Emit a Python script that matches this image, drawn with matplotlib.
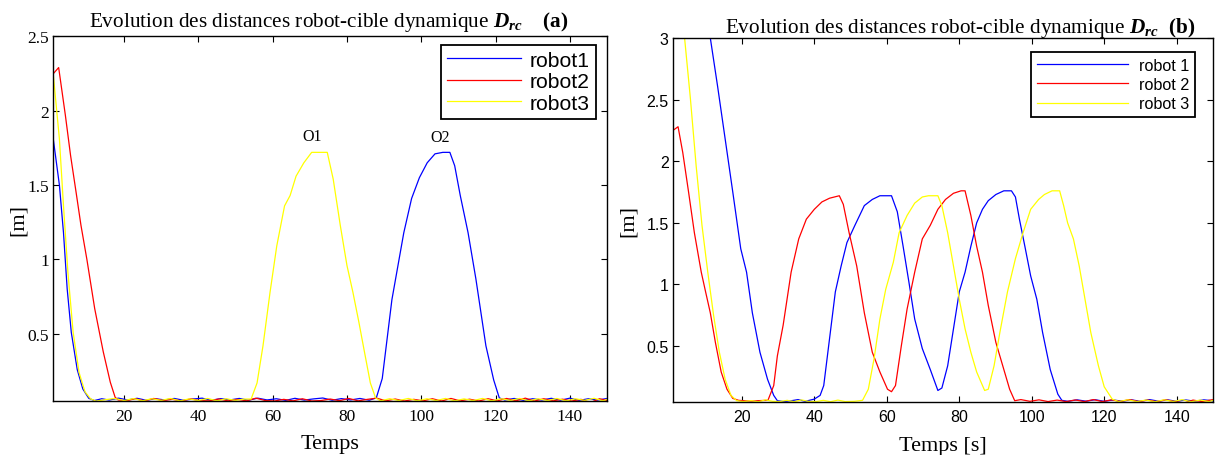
import matplotlib
matplotlib.use("Agg")
import matplotlib.pyplot as plt

# ---------------------------------------------------------------------------
# Distance robot-cible (m) en fonction du temps (s): (temps, distance)
# ---------------------------------------------------------------------------
# (a) cible dynamique, obstacles O1 / O2
robot1_a = [(1, 1.80), (2.6, 1.50), (3.7, 1.18), (4.7, 0.80), (5.8, 0.51), (7.4, 0.26),
            (8.9, 0.13), (10.5, 0.067), (12, 0.052), (14, 0.064), (16, 0.055), (18.5, 0.068),
            (21, 0.056), (23.5, 0.067), (26, 0.054), (28.5, 0.064), (31, 0.056), (33.5, 0.066),
            (36, 0.054), (38.5, 0.062), (41, 0.068), (43.5, 0.054), (46, 0.065), (48.5, 0.056),
            (51, 0.066), (53.5, 0.054), (56, 0.068), (58.5, 0.056), (61, 0.064), (63.5, 0.053),
            (66, 0.067), (68.5, 0.055), (71, 0.063), (73.5, 0.069), (76, 0.054), (78.5, 0.065),
            (81, 0.056), (83.5, 0.066), (86, 0.054), (87.9, 0.07), (89.5, 0.20), (92.1, 0.73),
            (95.3, 1.18), (97.4, 1.41), (99.5, 1.55), (101.6, 1.65), (103.7, 1.71), (105.8, 1.72),
            (107.7, 1.72), (109, 1.63), (110.5, 1.43), (112.6, 1.18), (114.7, 0.87), (117.4, 0.42),
            (119.5, 0.19), (121, 0.07), (122.5, 0.055), (125, 0.066), (127.5, 0.053), (130, 0.064),
            (132.5, 0.055), (135, 0.067), (137.5, 0.054), (140, 0.068), (142.5, 0.053),
            (145, 0.064), (147.5, 0.055), (150, 0.066)]

robot2_a = [(1, 2.25), (2.4, 2.29), (4.2, 1.97), (5.6, 1.70), (7.1, 1.45), (8.4, 1.23),
            (10, 1.00), (12.1, 0.67), (14.4, 0.38), (16.3, 0.175), (17.6, 0.074), (18.4, 0.056),
            (20.5, 0.05), (23, 0.064), (25.5, 0.05), (28, 0.066), (30.5, 0.052), (33, 0.06),
            (35.5, 0.05), (38, 0.063), (40.5, 0.051), (43, 0.05), (45.5, 0.062), (48, 0.05),
            (50.5, 0.06), (53, 0.05), (55.5, 0.068), (58, 0.052), (60.5, 0.049), (63, 0.06),
            (65.5, 0.05), (68, 0.064), (70.5, 0.049), (73, 0.052), (75.5, 0.062), (78, 0.051),
            (80.5, 0.066), (83, 0.05), (85.5, 0.06), (88, 0.068), (90.5, 0.05), (93, 0.062),
            (95.5, 0.049), (98, 0.06), (100.5, 0.05), (103, 0.064), (105.5, 0.049), (108, 0.066),
            (110.5, 0.05), (113, 0.061), (115.5, 0.049), (118, 0.064), (120.5, 0.05),
            (123, 0.066), (125.5, 0.05), (128, 0.068), (130.5, 0.049), (133, 0.064), (135.5, 0.05),
            (138, 0.061), (140.5, 0.049), (143, 0.06), (145.5, 0.038), (148, 0.064), (150, 0.052)]

robot3_a = [(1, 2.23), (2.6, 1.81), (3.7, 1.36), (4.9, 0.91), (6.3, 0.51), (7.9, 0.24),
            (9.5, 0.11), (11, 0.063), (12.5, 0.048), (15, 0.058), (17.5, 0.066), (20, 0.052),
            (22.5, 0.065), (25, 0.051), (27.5, 0.064), (30, 0.053), (32.5, 0.066), (35, 0.05),
            (37.5, 0.063), (40, 0.052), (42.5, 0.066), (45, 0.05), (47.5, 0.064), (50, 0.053),
            (52.5, 0.062), (54.2, 0.062), (55.8, 0.17), (57.4, 0.42), (59.3, 0.78), (61.1, 1.09),
            (63.2, 1.36), (64.7, 1.43), (66.3, 1.56), (68.4, 1.65), (70.5, 1.72), (74.7, 1.72),
            (76.3, 1.54), (78.2, 1.23), (80, 0.96), (81.6, 0.78), (83.2, 0.58), (84.7, 0.38),
            (86.3, 0.17), (87.7, 0.07), (89, 0.05), (91.5, 0.064), (94, 0.052), (96.5, 0.066),
            (99, 0.05), (101.5, 0.064), (104, 0.052), (106.5, 0.066), (109, 0.05), (111.5, 0.063),
            (114, 0.052), (116.5, 0.066), (119, 0.05), (121.5, 0.064), (124, 0.053), (126.5, 0.066),
            (129, 0.05), (131.5, 0.064), (134, 0.052), (136.5, 0.066), (139, 0.05), (141.5, 0.064),
            (144, 0.053), (146.5, 0.067), (149, 0.05), (150, 0.06)]

# (b) trois robots, cible dynamique
robot1_b = [(1, 4.6), (11.3, 3.0), (13.3, 2.61), (15.4, 2.18), (17.5, 1.75), (19.7, 1.29),
            (21.3, 1.10), (22.9, 0.77), (25, 0.45), (27.1, 0.23), (28.8, 0.10), (29.8, 0.057),
            (31.5, 0.05), (33.5, 0.056), (35.5, 0.066), (37.5, 0.052), (40, 0.07), (41.6, 0.10),
            (42.6, 0.18), (44.2, 0.56), (45.8, 0.94), (47.4, 1.15), (49, 1.34), (51.2, 1.48),
            (53.8, 1.64), (56, 1.69), (58.1, 1.72), (61.3, 1.72), (62.9, 1.59), (64.5, 1.31),
            (66.1, 1.02), (67.7, 0.72), (69.8, 0.48), (72, 0.31), (74.1, 0.14), (75.2, 0.16),
            (76.8, 0.34), (78.4, 0.64), (80, 0.94), (81.6, 1.10), (83.2, 1.31), (84.8, 1.50),
            (86.4, 1.61), (88, 1.68), (90.1, 1.73), (92.3, 1.76), (94.4, 1.76), (95.5, 1.71),
            (96.6, 1.53), (98.1, 1.31), (99.7, 1.07), (101.4, 0.88), (103, 0.61), (105.1, 0.31),
            (107.2, 0.11), (108.3, 0.06), (110, 0.052), (112.5, 0.064), (115, 0.053),
            (117.5, 0.065), (120, 0.052), (122.5, 0.063), (125, 0.053), (127.5, 0.064),
            (130, 0.052), (132.5, 0.066), (135, 0.053), (137.5, 0.064), (140, 0.052),
            (142.5, 0.063), (145, 0.053), (147.5, 0.064), (150, 0.056)]

robot2_b = [(1, 2.25), (2.4, 2.28), (3.7, 2.07), (5.3, 1.75), (6.9, 1.42), (8.8, 1.10),
            (10, 0.94), (11.3, 0.77), (12.7, 0.53), (14.3, 0.29), (15.9, 0.15), (17.5, 0.076),
            (19.1, 0.06), (21, 0.056), (23, 0.054), (25, 0.058), (27.2, 0.06), (28.8, 0.18),
            (29.8, 0.42), (31.4, 0.67), (33.6, 1.10), (35.7, 1.37), (37.8, 1.53), (40, 1.61),
            (42.1, 1.67), (44.2, 1.70), (46.9, 1.72), (48, 1.65), (49.6, 1.42), (51.7, 1.15),
            (53.8, 0.77), (56, 0.45), (58.1, 0.29), (60.2, 0.15), (61.3, 0.13), (62.4, 0.18),
            (64, 0.50), (65.6, 0.80), (67.7, 1.10), (69.8, 1.37), (72, 1.48), (74.1, 1.61),
            (76.2, 1.69), (78.4, 1.74), (80.5, 1.76), (81.6, 1.76), (83.2, 1.56), (84.8, 1.31),
            (86.4, 1.10), (88, 0.83), (90.1, 0.53), (92.3, 0.31), (93.9, 0.15), (95.3, 0.057),
            (97, 0.066), (99.5, 0.052), (102, 0.064), (104.5, 0.05), (107, 0.062), (109.5, 0.05),
            (112, 0.063), (114.5, 0.05), (117, 0.066), (119.5, 0.05), (122, 0.064),
            (124.5, 0.051), (127, 0.066), (129.5, 0.05), (132, 0.062), (134.5, 0.05),
            (137, 0.064), (139.5, 0.05), (142, 0.038), (144.5, 0.062), (147, 0.05), (150, 0.066)]

robot3_b = [(1, 3.6), (4.2, 3.0), (5.8, 2.51), (7.4, 1.96), (9, 1.48), (10.6, 1.10),
            (12.2, 0.75), (13.8, 0.45), (15.4, 0.23), (17, 0.10), (18.6, 0.057), (20.5, 0.05),
            (22.5, 0.058), (24.5, 0.048), (26.5, 0.064), (28.5, 0.052), (30.5, 0.05), (32.5, 0.06),
            (34.5, 0.049), (36.5, 0.063), (38.5, 0.051), (40.5, 0.05), (42.5, 0.06), (44.5, 0.049),
            (46.5, 0.062), (48.5, 0.05), (51, 0.052), (53.3, 0.06), (54.9, 0.15), (56.5, 0.40),
            (58.1, 0.72), (59.7, 0.96), (61.8, 1.18), (63.4, 1.42), (65.6, 1.56), (67.7, 1.66),
            (69.8, 1.71), (71.5, 1.72), (74.1, 1.72), (75.2, 1.64), (76.8, 1.42), (78.4, 1.15),
            (80, 0.88), (81.6, 0.64), (83.2, 0.45), (84.8, 0.29), (87, 0.14), (88, 0.15),
            (89.6, 0.34), (91.2, 0.61), (93.3, 0.94), (95.5, 1.21), (97.6, 1.42), (99.7, 1.61),
            (101.9, 1.69), (103.5, 1.73), (105.6, 1.76), (107.7, 1.76), (108.8, 1.64),
            (109.9, 1.50), (111.5, 1.37), (113.1, 1.15), (114.7, 0.88), (116.3, 0.61),
            (118.4, 0.34), (120, 0.17), (122.2, 0.07), (124, 0.05), (126.5, 0.064),
            (129, 0.05), (131.5, 0.062), (134, 0.049), (136.5, 0.064), (139, 0.051),
            (141.5, 0.065), (144, 0.049), (146.5, 0.062), (149, 0.05), (150, 0.06)]

labels_a = ["robot1", "robot2", "robot3"]
labels_b = ["robot 1", "robot 2", "robot 3"]
colors = ["#0000ff", "#ff0000", "#ffff00"]

yticks_a = [0.5, 1, 1.5, 2, 2.5]
ytick_labels_a = ["0.5", "1", "1.5", "2", "2.5"]
yticks_b = [0.5, 1, 1.5, 2, 2.5, 3]
ytick_labels_b = ["0.5", "1", "1.5", "2", "2.5", "3"]
xticks = [20, 40, 60, 80, 100, 120, 140]

# obstacles annotés sur (a): (nom, temps, distance)
obstacles = [("O1", 70.5, 1.83), ("O2", 105.0, 1.82)]

SERIF = "Liberation Serif"
SANS = "Liberation Sans"
plt.rcParams["mathtext.fontset"] = "custom"
plt.rcParams["mathtext.rm"] = SERIF
plt.rcParams["mathtext.it"] = SERIF + ":italic:bold"
plt.rcParams["mathtext.bf"] = SERIF + ":bold"

fig = plt.figure(figsize=(12.15, 4.56), dpi=100)
ax_a = fig.add_axes([0.0440, 0.1178, 0.4556, 0.8004])
ax_b = fig.add_axes([0.5539, 0.1169, 0.4444, 0.7976])


def draw(ax, series, labels):
    for data, lab, c in zip(series, labels, colors):
        t = [p[0] for p in data]
        v = [p[1] for p in data]
        ax.plot(t, v, color=c, lw=0.9, label=lab)


def style(ax, yticks, ylabels, tick_font, tick_size):
    ax.set_xlim(1, 150)
    ax.set_xticks(xticks)
    ax.set_xticklabels([str(x) for x in xticks])
    ax.set_yticks(yticks)
    ax.set_yticklabels(ylabels)
    ax.tick_params(direction="in", top=True, right=True, length=4, width=0.8,
                   labelsize=tick_size)
    ax.tick_params(axis="x", pad=5)
    ax.tick_params(axis="y", pad=3)
    for lbl in ax.get_xticklabels() + ax.get_yticklabels():
        lbl.set_family(tick_font)
    for s in ax.spines.values():
        s.set_linewidth(1.0)


draw(ax_a, [robot1_a, robot2_a, robot3_a], labels_a)
ax_a.set_ylim(0.047, 2.5)
style(ax_a, yticks_a, ytick_labels_a, SERIF, 12.5)
ax_a.set_xlabel("Temps", family=SERIF, fontsize=16, labelpad=7)
ax_a.set_ylabel("[m]", family=SERIF, fontsize=16, labelpad=0)
for name, t, v in obstacles:
    ax_a.text(t, v, name, family=SERIF, fontsize=11.5, ha="center", va="center")
leg_a = ax_a.legend(loc="upper right", bbox_to_anchor=(0.98, 0.977), borderaxespad=0,
                    prop={"family": SANS, "size": 15.2}, handlelength=3.5,
                    handletextpad=0.45, labelspacing=0.12, borderpad=0.28,
                    fancybox=False, framealpha=1, edgecolor="black")
leg_a.get_frame().set_linewidth(1.3)

draw(ax_b, [robot1_b, robot2_b, robot3_b], labels_b)
ax_b.set_ylim(0.049, 3.0)
style(ax_b, yticks_b, ytick_labels_b, SANS, 11.5)
ax_b.set_xlabel("Temps [s]", family=SERIF, fontsize=16, labelpad=9)
ax_b.set_ylabel("[m]", family=SERIF, fontsize=16, labelpad=6)
leg_b = ax_b.legend(loc="upper right", bbox_to_anchor=(0.966, 0.961), borderaxespad=0,
                    prop={"family": SANS, "size": 11.7}, handlelength=5.6,
                    handletextpad=0.65, labelspacing=0.26, borderpad=0.35,
                    fancybox=False, framealpha=1, edgecolor="black")
leg_b.get_frame().set_linewidth(1.3)

fig.text(0.2708, 1 - 27.5 / 456,
         r"Evolution des distances robot-cible dynamique $D_{rc}$    $\mathbf{(a)}$",
         family=SERIF, fontsize=15.3, ha="center", va="baseline")
fig.text(0.790, 1 - 33.5 / 456,
         r"Evolution des distances robot-cible dynamique $D_{rc}$  $\mathbf{(b)}$",
         family=SERIF, fontsize=15.3, ha="center", va="baseline")

fig.savefig("out.png", dpi=100)
